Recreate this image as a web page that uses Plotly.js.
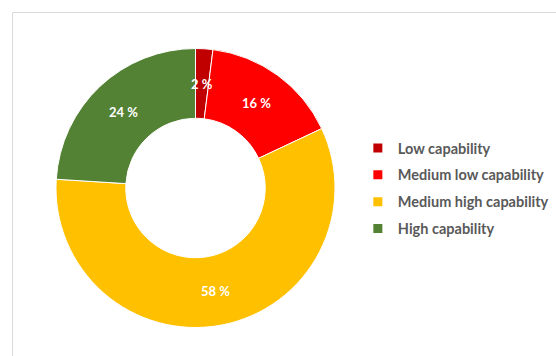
<!DOCTYPE html>
<html>
<head>
<meta charset="utf-8">
<script src="https://cdn.plot.ly/plotly-3.0.1.min.js"></script>
<style>html,body{margin:0;padding:0;background:#fff;}#chart{width:556px;height:356px;}</style>
</head>
<body>
<div id="chart"></div>
<script>
// Data
var categories = ["Low capability", "Medium low capability", "Medium high capability", "High capability"];
var values = [2, 16, 58, 24];
var colors = ["#C00000", "#FF0000", "#FFC000", "#548235"];

var W = 556, H = 356;
var cx = 195.5, cy = 188, R = 139.5, holeFrac = 0.5;

var domX = [(cx - R) / W, (cx + R) / W];
var domY = [(H - cy - R) / H, (H - cy + R) / H];

var fontFam = "Lato, 'Open Sans', sans-serif";

var pie = {
  type: "pie",
  labels: categories,
  values: values,
  marker: { colors: colors, line: { color: "#FFFFFF", width: 1 } },
  hole: holeFrac,
  sort: false,
  direction: "clockwise",
  rotation: 0,
  textposition: "none",
  domain: { x: domX, y: domY },
  hoverinfo: "label+value",
  showlegend: false
};

// legend entries (one per category, square swatches)
var legendTraces = categories.map(function (c, i) {
  return {
    type: "scatter", mode: "markers",
    x: [null], y: [null],
    name: c,
    legendgroup: "g" + i,
    marker: { symbol: "square", size: 9, color: colors[i] },
    showlegend: true,
    hoverinfo: "skip"
  };
});

// label positions computed from data (mid angle, mid ring)
var total = values.reduce(function (a, b) { return a + b; }, 0);
var annotations = [];
var cum = 0;
values.forEach(function (v, i) {
  var mid = (cum + v / 2) / total * 2 * Math.PI;
  cum += v;
  var rl = R * (1 + holeFrac) / 2;
  var px = cx + rl * Math.sin(mid);
  var py = cy - rl * Math.cos(mid);
  annotations.push({
    xref: "paper", yref: "paper",
    x: px / W, y: 1 - py / H,
    xanchor: "center", yanchor: "middle",
    text: "<b>" + v + " %</b>",
    showarrow: false,
    font: { family: fontFam, size: 13, color: "#FFFFFF" }
  });
});

var layout = {
  width: W, height: H,
  margin: { l: 0, r: 0, t: 0, b: 0, autoexpand: false },
  paper_bgcolor: "#FFFFFF",
  plot_bgcolor: "rgba(0,0,0,0)",
  xaxis: { visible: false },
  yaxis: { visible: false },
  showlegend: true,
  legend: {
    x: 0.6436, y: 1 - 188.5 / H, xanchor: "left", yanchor: "middle",
    font: { family: fontFam, size: 14.5, color: "#595959", weight: "bold" },
    itemwidth: 30,
    tracegroupgap: 5,
    traceorder: "grouped",
    bgcolor: "rgba(0,0,0,0)"
  },
  annotations: annotations,
  shapes: [{
    type: "rect", xref: "paper", yref: "paper",
    x0: 12.5 / W, y0: -0.1, x1: 1.1, y1: 1 - 12.5 / H,
    line: { color: "#D9D9D9", width: 1 },
    fillcolor: "rgba(0,0,0,0)", layer: "below"
  }]
};

Plotly.newPlot("chart", [pie].concat(legendTraces), layout, { displayModeBar: false, staticPlot: true });
</script>
</body>
</html>
